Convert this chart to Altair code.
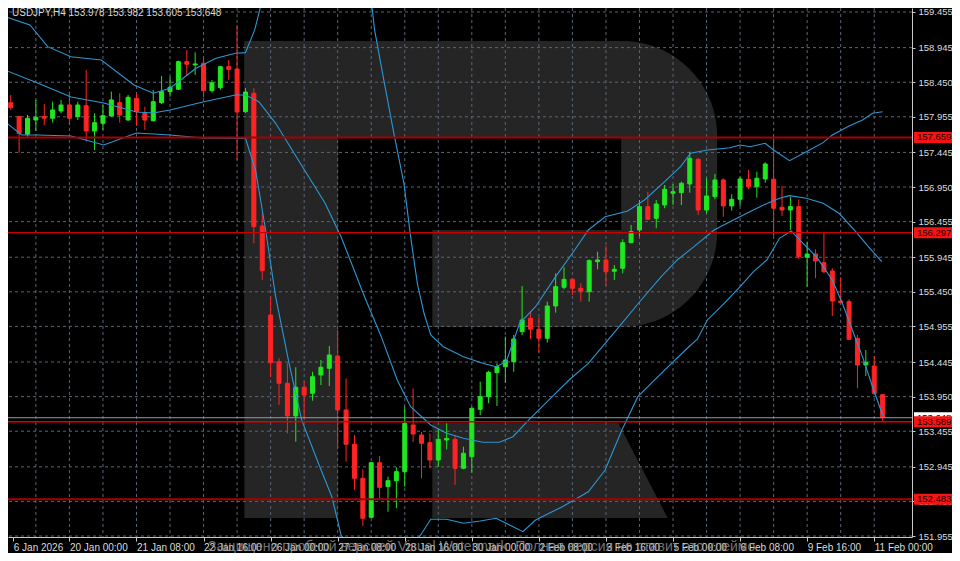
import json
import altair as alt
import pandas as pd

# ---------------- data ----------------
opens = [158.157, 157.957, 157.705, 157.909, 157.957, 157.934, 158.038, 158.124, 157.957, 158.114,
         157.752, 157.862, 157.967, 158.157, 157.909, 158.220, 158.005, 157.899, 158.157, 158.315,
         158.349, 158.744, 158.697, 158.721, 158.329, 158.372, 158.672, 158.639, 158.028, 158.292,
         156.392, 155.118, 154.450, 154.141, 153.673, 154.084, 153.998, 154.260, 154.356, 154.532,
         153.759, 153.268, 152.781, 152.223, 153.004, 152.661, 152.747, 152.876, 153.544, 153.401,
         153.291, 153.043, 153.329, 153.339, 152.924, 153.090, 153.769, 153.949, 154.293, 154.378,
         154.450, 154.879, 155.071, 154.914, 154.785, 155.247, 155.515, 155.629, 155.501, 155.452,
         155.881, 155.906, 155.744, 155.787, 156.153, 156.335, 156.669, 156.502, 156.693, 156.860,
         156.869, 156.993, 157.347, 156.621, 156.812, 157.051, 156.679, 156.774, 157.061, 156.955,
         157.065, 157.061, 156.660, 156.621, 156.669, 155.944, 155.991, 155.867, 155.748, 155.319,
         155.309, 154.785, 154.403, 154.388, 153.978]
highs = [158.267, 157.970, 157.981, 158.196, 158.138, 158.171, 158.196, 158.315, 158.171, 158.625,
         158.005, 158.124, 158.315, 158.292, 158.267, 158.282, 158.100, 158.339, 158.539, 158.529,
         158.758, 158.911, 158.878, 158.807, 158.482, 158.682, 158.768, 159.269, 158.367, 158.363,
         156.583, 155.380, 154.499, 154.427, 154.370, 154.164, 154.307, 154.474, 154.675, 154.904,
         154.212, 153.401, 152.910, 153.019, 153.100, 152.804, 152.939, 153.806, 154.069, 153.448,
         153.425, 153.482, 153.568, 153.401, 153.233, 153.806, 154.164, 154.321, 154.427, 154.808,
         154.832, 155.533, 155.166, 155.085, 155.309, 155.715, 155.801, 155.643, 155.572, 155.916,
         156.024, 156.106, 155.834, 156.202, 156.407, 156.764, 156.883, 156.764, 156.979, 156.993,
         157.026, 157.456, 157.361, 157.079, 157.137, 157.075, 156.846, 157.098, 157.194, 157.169,
         157.304, 157.695, 156.965, 156.812, 156.774, 156.168, 156.059, 156.311, 155.787, 155.658,
         155.343, 154.832, 154.617, 154.532, 153.982]
lows = [158.053, 157.441, 157.670, 157.752, 157.838, 157.871, 158.005, 157.838, 157.909, 157.599,
        157.480, 157.766, 157.957, 157.871, 157.899, 157.824, 157.766, 157.885, 158.138, 158.243,
        158.339, 158.539, 158.554, 158.234, 158.300, 158.339, 158.482, 157.337, 158.010, 156.145,
        155.619, 154.235, 153.830, 153.425, 153.305, 153.616, 153.892, 154.116, 154.102, 153.210,
        153.019, 152.614, 152.098, 152.209, 152.495, 152.303, 152.352, 152.661, 153.305, 152.781,
        152.924, 152.947, 153.196, 152.685, 152.910, 152.861, 153.687, 153.855, 153.816, 154.149,
        154.307, 154.832, 154.771, 154.579, 154.722, 155.151, 155.486, 155.405, 155.309, 155.309,
        155.772, 155.533, 155.619, 155.715, 156.145, 156.239, 156.478, 156.359, 156.646, 156.693,
        156.693, 156.869, 156.550, 156.574, 156.774, 156.525, 156.611, 156.679, 156.918, 156.797,
        157.012, 156.239, 156.535, 156.335, 155.916, 155.524, 155.644, 155.715, 155.104, 155.286,
        154.761, 154.069, 154.245, 153.987, 153.605]
closes = [158.086, 157.719, 157.934, 157.948, 157.934, 158.053, 158.124, 157.934, 158.124, 157.752,
          157.871, 157.971, 158.196, 157.981, 158.234, 158.028, 157.909, 158.171, 158.315, 158.377,
          158.744, 158.707, 158.711, 158.329, 158.443, 158.672, 158.635, 158.024, 158.310, 156.382,
          155.752, 154.436, 154.141, 153.673, 154.084, 153.973, 154.235, 154.370, 154.546, 153.759,
          153.268, 152.781, 152.209, 153.004, 152.652, 152.747, 152.876, 153.568, 153.415, 153.282,
          153.043, 153.339, 153.353, 152.924, 153.139, 153.783, 153.949, 154.298, 154.378, 154.474,
          154.775, 155.047, 154.914, 154.785, 155.247, 155.524, 155.629, 155.501, 155.452, 155.896,
          155.906, 155.738, 155.772, 156.153, 156.311, 156.669, 156.488, 156.707, 156.918, 156.883,
          157.003, 157.361, 156.621, 156.822, 157.051, 156.679, 156.774, 157.065, 156.955, 157.075,
          157.280, 156.646, 156.621, 156.669, 155.953, 155.991, 155.891, 155.738, 155.319, 155.295,
          154.771, 154.403, 154.441, 153.998, 153.648]

# Bollinger bands (bar index, price)
up_idx = [-0.7, 2.3, 4.4, 7.2, 10.8, 14.7, 17.0, 19.0, 22.1, 24.5, 26.8, 28.0, 29.1, 30.0, 31.0, 33.0,
          36.0, 39.0, 41.5, 43.0, 43.4, 44.5, 45.7, 46.9, 47.7, 48.5, 49.3, 50.1, 51.6, 54.0, 56.3,
          57.9, 59.1, 60.7, 62.6, 65.0, 67.0, 68.9, 70.9, 73.6, 75.6, 78.0, 79.9, 81.1, 83.1, 85.8,
          87.0, 88.2, 90.0, 91.0, 92.9, 94.9, 96.9, 98.0, 100.0, 101.6, 102.8, 104.0]
up_val = [159.388, 159.269, 158.959, 158.815, 158.768, 158.410, 158.292, 158.363, 158.649, 158.793,
          158.864, 158.873, 159.198, 159.627, 159.95, 160.35, 160.6, 160.5, 160.0, 159.627, 159.198,
          158.482, 157.719, 157.003, 156.239, 155.572, 155.143, 154.832, 154.665, 154.522, 154.427,
          154.378, 154.450, 154.999, 155.237, 155.667, 156.002, 156.335, 156.525, 156.607, 156.764,
          157.026, 157.241, 157.433, 157.480, 157.513, 157.552, 157.527, 157.576, 157.480, 157.327,
          157.456, 157.585, 157.695, 157.824, 157.909, 158.005, 158.028]
mid_idx = [-0.7, 3.2, 7.2, 11.1, 15.0, 17.0, 19.0, 22.9, 26.8, 28.0, 29.6, 31.6, 34.3, 37.5, 39.4,
           42.2, 44.2, 46.1, 47.7, 50.1, 52.0, 54.0, 56.3, 58.3, 59.9, 61.8, 64.2, 66.6, 68.9, 70.9,
           72.9, 75.2, 77.6, 79.5, 81.5, 83.9, 85.8, 87.8, 89.8, 91.7, 92.9, 94.9, 96.9, 98.8, 100.8,
           102.3, 103.9]
mid_val = [158.625, 158.439, 158.239, 158.153, 158.024, 158.010, 158.053, 158.167, 158.267, 158.267,
           158.171, 157.862, 157.337, 156.717, 156.239, 155.380, 154.808, 154.188, 153.806, 153.544,
           153.425, 153.354, 153.296, 153.296, 153.377, 153.616, 153.902, 154.188, 154.427, 154.713,
           154.999, 155.333, 155.667, 155.906, 156.096, 156.335, 156.454, 156.574, 156.693, 156.789,
           156.826, 156.789, 156.717, 156.574, 156.311, 156.096, 155.881]
lo_idx = [-0.7, 1.3, 3.2, 7.2, 11.1, 15.0, 19.0, 22.9, 28.0, 29.2, 30.4, 31.6, 33.2, 34.7, 36.7, 38.3,
          39.4, 41.0, 43.0, 45.0, 47.0, 48.9, 50.1, 52.0, 54.0, 56.0, 57.9, 59.5, 61.1, 62.6, 65.8,
          68.9, 70.9, 72.9, 74.8, 77.6, 80.7, 81.9, 83.1, 85.1, 87.0, 88.6, 90.2, 91.7, 93.1, 94.1,
          96.1, 98.0, 99.2, 100.4, 101.6, 102.8, 104.0]
lo_val = [157.885, 157.695, 157.695, 157.680, 157.552, 157.723, 157.695, 157.652, 157.648, 157.194,
          156.335, 155.380, 154.427, 153.616, 152.996, 152.518, 151.970, 151.70, 151.55, 151.55,
          151.72, 151.970, 152.194, 152.194, 152.137, 152.170, 152.209, 152.113, 152.017, 152.184,
          152.375, 152.589, 152.900, 153.472, 153.949, 154.284, 154.642, 154.771, 155.047, 155.286,
          155.524, 155.738, 155.906, 156.216, 156.321, 156.192, 155.953, 155.619, 155.286, 154.900,
          154.522, 154.092, 153.687]

level_vals = [157.659, 156.297, 153.589, 152.483]
bid_val = 153.648
y_ticks = [151.955, 152.450, 152.945, 153.455, 153.950, 154.445, 154.955, 155.450, 155.945,
           156.455, 156.950, 157.445, 157.955, 158.450, 158.945, 159.455]
x_label_idx = [7, 15, 23, 31, 39, 47, 55, 63, 71, 79, 87, 95, 103]
x_labels = ["20 Jan 00:00", "21 Jan 08:00", "22 Jan 16:00", "26 Jan 00:00", "27 Jan 08:00",
            "28 Jan 16:00", "30 Jan 00:00", "2 Feb 08:00", "3 Feb 16:00", "5 Feb 00:00",
            "6 Feb 08:00", "9 Feb 16:00", "11 Feb 00:00"]
first_label = "6 Jan 2026"
x_grid_idx = [3, 7, 11, 15, 19, 23, 27, 31, 35, 39, 43, 47, 51, 55, 59, 63, 67, 71, 75, 79, 83, 87,
              91, 95, 99, 103]
title_text = "USDJPY,H4 153.978 153.982 153.605 153.648"
watermark_text = ("Защищено пробной версией Visual Watermark. "
                  "Полная версия не ставит это клеймо.")

# background logo pieces (bar-index / price units)
logo_bowl = {"x": 27.87, "x2": 84.26, "y": 159.040, "y2": 154.947}
logo_stem = {"x": 27.87, "x2": 39.08, "y": 159.040, "y2": 152.213}
logo_cut = [{"x": 39.08, "x2": 72.82, "y": 157.666, "y2": 156.335},
            {"x": 39.08, "x2": 50.29, "y": 157.666, "y2": 152.213}]
logo_leg = {"x": [50.29, 72.47, 78.36], "top": [153.573, 153.573, 152.213],
            "bot": [152.213, 152.213, 152.213]}

# ---------------- styling ----------------
GREEN = "#1fe81f"
RED = "#ff2424"
BAND = "#2a98d4"
GRID = "#5b6573"
AXIS = "#c8c8c8"
LOGO = "#252525"
FONT = "Liberation Sans"

W, H = 904, 529
xs = alt.Scale(domain=[0.27, 106.91], nice=False, zero=False)
ys = alt.Scale(domain=[151.941, 159.512], nice=False, zero=False)

label_expr = ("datum.value < 1 ? '" + first_label + "' : " + json.dumps(x_labels)
              + "[round((datum.value - 7) / 8)]")
x_axis = alt.Axis(values=[0.3] + x_label_idx, labelExpr=label_expr, orient="bottom", grid=False,
                  labelAlign="left", labelFlush=False, labelOverlap=False, labelBound=False,
                  labelPadding=1, tickSize=4, labelColor="#dcdcdc", labelFont=FONT,
                  labelFontSize=10, domainColor=AXIS, tickColor=AXIS, title=None)
y_axis = alt.Axis(values=y_ticks, format=".3f", orient="right", grid=False, tickSize=3,
                  labelPadding=3, labelColor="#dcdcdc", labelFont=FONT, labelFontSize=9.5,
                  domainColor=AXIS, tickColor=AXIS, labelOverlap=False, labelBound=False,
                  labelFlush=False, title=None)


def X(f):
    return alt.X(f, type="quantitative", scale=xs, axis=x_axis, title=None)


def Y(f):
    return alt.Y(f, type="quantitative", scale=ys, axis=y_axis, title=None)


# ---------------- frames ----------------
n = len(opens)
candles = pd.DataFrame({"i": list(range(n)), "o": opens, "h": highs, "l": lows, "c": closes})
candles["top"] = candles[["o", "c"]].max(axis=1)
candles["bot"] = candles[["o", "c"]].min(axis=1)
candles["dir"] = ["up" if c >= o else "down" for o, c in zip(opens, closes)]
dir_scale = alt.Scale(domain=["up", "down"], range=[GREEN, RED])

bands = [pd.DataFrame({"i": up_idx, "v": up_val}),
         pd.DataFrame({"i": mid_idx, "v": mid_val}),
         pd.DataFrame({"i": lo_idx, "v": lo_val})]

layers = []

# logo watermark
layers.append(alt.Chart(pd.DataFrame([logo_bowl])).mark_rect(
    color=LOGO, cornerRadiusTopRight=95, cornerRadiusBottomRight=95, clip=True).encode(
    x=X("x"), x2="x2", y=Y("y"), y2="y2"))
layers.append(alt.Chart(pd.DataFrame([logo_stem])).mark_rect(color=LOGO, clip=True).encode(
    x=X("x"), x2="x2", y=Y("y"), y2="y2"))
layers.append(alt.Chart(pd.DataFrame(logo_cut)).mark_rect(color="#000000", clip=True).encode(
    x=X("x"), x2="x2", y=Y("y"), y2="y2"))
layers.append(alt.Chart(pd.DataFrame(logo_leg)).mark_area(color=LOGO, opacity=1, clip=True).encode(
    x=X("x"), y=Y("top"), y2="bot"))

# grid
layers.append(alt.Chart(pd.DataFrame({"g": x_grid_idx})).mark_rule(
    color=GRID, strokeDash=[3, 3], strokeWidth=1, clip=True).encode(x=X("g")))
layers.append(alt.Chart(pd.DataFrame({"t": y_ticks})).mark_rule(
    color=GRID, strokeDash=[3, 3], strokeWidth=1, clip=True).encode(y=Y("t")))

# candles
layers.append(alt.Chart(candles).mark_rule(strokeWidth=1, clip=True).encode(
    x=X("i"), y=Y("l"), y2="h", color=alt.Color("dir:N", scale=dir_scale, legend=None)))
layers.append(alt.Chart(candles).mark_bar(size=4, strokeWidth=1, clip=True).encode(
    x=X("i"), y=Y("bot"), y2="top",
    color=alt.Color("dir:N", scale=dir_scale, legend=None),
    stroke=alt.Stroke("dir:N", scale=dir_scale, legend=None)))

# bands
for b in bands:
    layers.append(alt.Chart(b).mark_line(color=BAND, strokeWidth=1.1, clip=True).encode(
        x=X("i"), y=Y("v")))

# level lines
level_styles = [("#a80000", 2), ("#cc0000", 1.2), ("#e00000", 1.5), ("#a80000", 2)]
layers.append(alt.Chart(pd.DataFrame({"v": [bid_val]})).mark_rule(
    color="#8c9aa6", strokeWidth=1, clip=True).encode(y=Y("v")))
for v, (col, w) in zip(level_vals, level_styles):
    layers.append(alt.Chart(pd.DataFrame({"v": [v]})).mark_rule(
        color=col, strokeWidth=w, clip=True).encode(y=Y("v")))

# price boxes on the right axis
bid_df = pd.DataFrame({"v": [bid_val], "t": [f"{bid_val:.3f}"]})
lev_df = pd.DataFrame({"v": level_vals, "t": [f"{v:.3f}" for v in level_vals]})
for df, bg, fg in [(bid_df, "#ffffff", "#000000"), (lev_df, "#f51414", "#1a0000")]:
    layers.append(alt.Chart(df).mark_tick(orient="horizontal", size=38, thickness=11, opacity=1,
                                          color=bg).encode(x=alt.value(925), y=Y("v")))
    layers.append(alt.Chart(df).mark_text(align="left", baseline="middle", font=FONT,
                                          fontSize=9.5, color=fg).encode(
        x=alt.value(909), y=Y("v"), text="t:N"))

# title
layers.append(alt.Chart(pd.DataFrame({"t": [title_text]})).mark_text(
    align="left", baseline="top", font=FONT, fontSize=10, color="#d8d8d8").encode(
    x=alt.value(4), y=alt.value(0), text="t:N"))

# watermark text
layers.append(alt.Chart(pd.DataFrame({"t": [watermark_text]})).mark_text(
    align="left", baseline="alphabetic", font=FONT, fontSize=14, color="#9a9a9a",
    opacity=0.75).encode(x=alt.value(200), y=alt.value(543), text="t:N"))

chart = alt.layer(*layers).properties(
    width=W, height=H, background="#000000",
    padding={"left": 0, "top": 0, "right": 40, "bottom": 16},
    autosize=alt.AutoSizeParams(type="none"),
).configure_view(stroke=None)

chart.save("out.html", embed_options={"renderer": "svg", "actions": False})
